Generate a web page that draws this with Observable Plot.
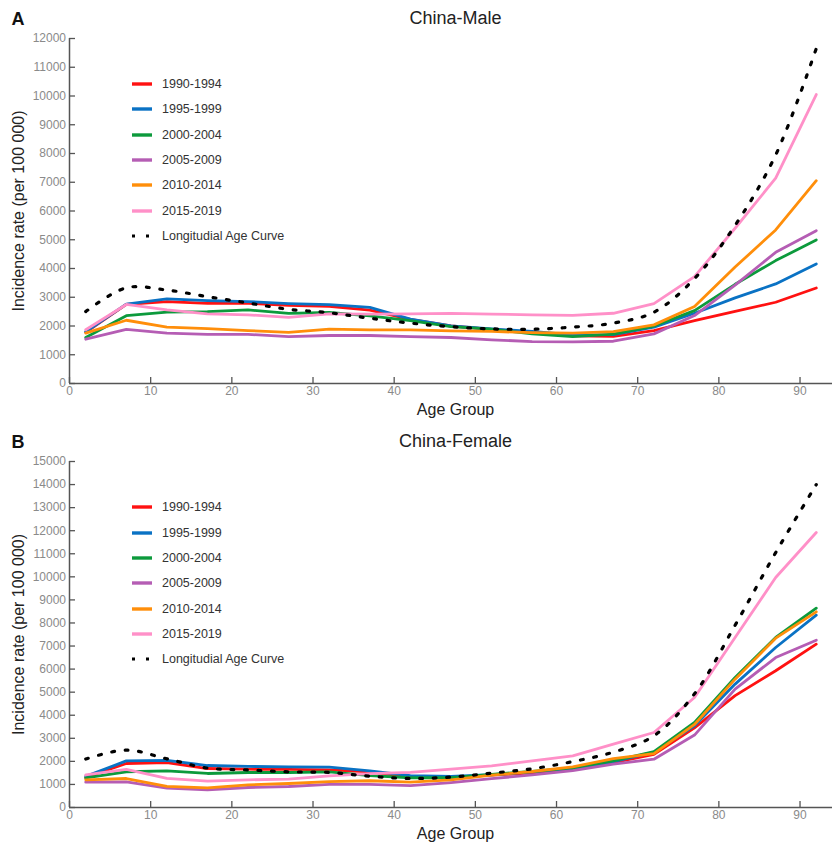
<!DOCTYPE html>
<html>
<head>
<meta charset="utf-8">
<script src="https://cdn.jsdelivr.net/npm/d3@7"></script>
<script src="https://cdn.jsdelivr.net/npm/@observablehq/plot@0.6"></script>
<style>
  body { margin: 0; background: #fff; font-family: "Liberation Sans", Arial, sans-serif; }
  .panel { position: relative; width: 832px; }
  .panel svg { display: block; }
  .legend { position: absolute; left: 132px; top: 0; font-size: 12.5px; color: #333; }
  .legend .item { position: absolute; left: 0; height: 16px; display: flex; align-items: center; white-space: nowrap; }
  .legend .item svg { width: 22px; height: 8px; margin-right: 8px; overflow: visible; }
</style>
</head>
<body>
<div id="chart"></div>
<script>
// Age group midpoints (5-year groups)
const ages = [2, 7, 12, 17, 22, 27, 32, 37, 42, 47, 52, 57, 62, 67, 72, 77, 82, 87, 92];
const periods = ["1990-1994", "1995-1999", "2000-2004", "2005-2009", "2010-2014", "2015-2019"];
const periodColors = ["#ff1111", "#0a72c4", "#0c9a3c", "#b55db4", "#ff8e0a", "#ff90c8"];
const curveLabel = "Longitudial Age Curve";
const yTicksMale = [0, 1000, 2000, 3000, 4000, 5000, 6000, 7000, 8000, 9000, 10000, 11000, 12000];
const yTicksFemale = [0, 1000, 2000, 3000, 4000, 5000, 6000, 7000, 8000, 9000, 10000, 11000, 12000, 13000, 14000, 15000];
const xTicks = [0, 10, 20, 30, 40, 50, 60, 70, 80, 90];

// China-Male incidence rate (per 100 000) by period
const maleP1990 = [1780, 2750, 2850, 2790, 2790, 2720, 2680, 2550, 2230, 2000, 1880, 1780, 1660, 1640, 1840, 2190, 2510, 2826, 3320];
const maleP1995 = [1800, 2760, 2940, 2880, 2850, 2780, 2740, 2650, 2240, 2000, 1900, 1810, 1690, 1700, 1960, 2445, 2980, 3463, 4158];
const maleP2000 = [1600, 2360, 2480, 2500, 2560, 2440, 2470, 2350, 2190, 1980, 1890, 1725, 1630, 1720, 1998, 2536, 3450, 4274, 4993];
const maleP2005 = [1540, 1880, 1750, 1710, 1710, 1630, 1670, 1670, 1630, 1600, 1520, 1460, 1450, 1470, 1727, 2363, 3420, 4563, 5316];
const maleP2010 = [1750, 2200, 1960, 1910, 1840, 1780, 1890, 1865, 1865, 1830, 1810, 1770, 1750, 1807, 2040, 2680, 4050, 5340, 7053];
const maleP2015 = [1870, 2750, 2560, 2420, 2390, 2300, 2420, 2410, 2420, 2440, 2410, 2390, 2370, 2443, 2780, 3720, 5400, 7140, 10050];
const maleCurve = [2500, 3330, 3250, 3020, 2800, 2580, 2460, 2270, 2100, 1975, 1900, 1890, 1960, 2100, 2480, 3650, 5500, 7950, 11650];

// China-Female incidence rate (per 100 000) by period
const femaleP1990 = [1300, 1907, 1950, 1690, 1660, 1650, 1630, 1550, 1320, 1310, 1400, 1500, 1650, 1950, 2300, 3450, 4850, 5930, 7080];
const femaleP1995 = [1350, 2020, 2040, 1820, 1780, 1763, 1750, 1590, 1380, 1350, 1420, 1540, 1700, 1990, 2400, 3540, 5350, 6936, 8338];
const femaleP2000 = [1280, 1550, 1590, 1475, 1517, 1517, 1546, 1380, 1290, 1290, 1440, 1560, 1720, 2020, 2427, 3685, 5636, 7370, 8641];
const femaleP2005 = [1100, 1110, 838, 760, 867, 910, 1000, 1000, 944, 1080, 1250, 1410, 1600, 1878, 2095, 3140, 5130, 6502, 7254];
const femaleP2010 = [1200, 1257, 920, 855, 982, 1040, 1120, 1160, 1100, 1200, 1400, 1560, 1760, 2120, 2340, 3600, 5563, 7340, 8482];
const femaleP2015 = [1410, 1650, 1260, 1140, 1200, 1228, 1372, 1470, 1520, 1663, 1807, 2024, 2240, 2745, 3251, 4769, 7370, 9970, 11921];
const femaleCurve = [2100, 2490, 2110, 1710, 1630, 1546, 1520, 1355, 1258, 1320, 1490, 1680, 1990, 2400, 3110, 4930, 7900, 11050, 14000];

const FONT = "'Liberation Sans', Arial, sans-serif";
const AXIS = "#555";
const TICKTXT = "#8a8a8a";

function longFormat(seriesArrays) {
  const rows = [];
  seriesArrays.forEach((vals, i) => {
    vals.forEach((v, j) => rows.push({ period: periods[i], age: ages[j], value: v }));
  });
  return rows;
}

function panel({ letter, title, series, curve, yTicks, height, marginTop, marginBottom }) {
  const rows = longFormat(series);
  const curveRows = curve.map((v, j) => ({ age: ages[j], value: v }));
  const yMax = yTicks[yTicks.length - 1];
  const plain = d => String(d);
  return Plot.plot({
    width: 832,
    height,
    marginLeft: 69,
    marginRight: 0,
    marginTop,
    marginBottom,
    style: { fontFamily: FONT, background: "#fff" },
    x: { domain: [0, 94] },
    y: { domain: [0, yMax] },
    color: { domain: periods, range: periodColors },
    marks: [
      // tick labels
      Plot.axisY(yTicks, { tickSize: 0, tickPadding: 3.5, tickFormat: plain, fontSize: 12, fill: TICKTXT, label: null }),
      Plot.axisX(xTicks, { tickSize: 0, tickPadding: 3, tickFormat: plain, fontSize: 12, fill: TICKTXT, label: null }),
      // inward tick marks
      Plot.axisY(yTicks, { tickSize: 6, text: null, dx: 6, stroke: AXIS, strokeWidth: 1.3, strokeOpacity: 1, label: null }),
      Plot.axisX(xTicks, { tickSize: 6, text: null, dy: -6, stroke: AXIS, strokeWidth: 1.3, strokeOpacity: 1, label: null }),
      // axis lines
      Plot.ruleX([0], { stroke: AXIS, strokeWidth: 1.5 }),
      Plot.ruleY([0], { stroke: AXIS, strokeWidth: 1.5 }),
      // period lines
      Plot.line(rows, { x: "age", y: "value", z: "period", stroke: "period", strokeWidth: 2.8 }),
      // longitudinal age curve
      Plot.line(curveRows, {
        x: "age", y: "value", curve: "catmull-rom",
        stroke: "#000", strokeWidth: 3.2, strokeDasharray: "2.8,10.7"
      }),
      // titles and labels
      Plot.text([title], { text: d => d, frameAnchor: "top", dx: 4.5, dy: -20, fontSize: 18, fill: "#222", lineAnchor: "middle" }),
      Plot.text([letter], { text: d => d, frameAnchor: "top-left", textAnchor: "start", dx: -58, dy: -19, fontSize: 18, fontWeight: "bold", fill: "#111", lineAnchor: "middle" }),
      Plot.text(["Age Group"], { text: d => d, frameAnchor: "bottom", dx: 4.5, dy: 26, fontSize: 16, fill: "#222", lineAnchor: "middle" }),
      Plot.text(["Incidence rate (per 100 000)"], { text: d => d, frameAnchor: "left", textAnchor: "middle", rotate: -90, dx: -51, fontSize: 16, fill: "#222", lineAnchor: "middle" })
    ]
  });
}

function legend(top) {
  const box = document.createElement("div");
  box.className = "legend";
  box.style.top = top + "px";
  const step = 25.35;
  periods.forEach((p, i) => {
    const item = document.createElement("div");
    item.className = "item";
    item.style.top = (i * step - 8) + "px";
    item.innerHTML = `<svg viewBox="0 0 22 8"><line x1="0" x2="20" y1="4" y2="4" stroke="${periodColors[i]}" stroke-width="3.4"/></svg><span>${p}</span>`;
    box.appendChild(item);
  });
  const item = document.createElement("div");
  item.className = "item";
  item.style.top = (periods.length * step - 8) + "px";
  item.innerHTML = `<svg viewBox="0 0 22 8"><line x1="0" x2="20" y1="4" y2="4" stroke="#000" stroke-width="3.2" stroke-dasharray="3,11"/></svg><span>${curveLabel}</span>`;
  box.appendChild(item);
  return box;
}

const root = document.getElementById("chart");

const male = document.createElement("div");
male.className = "panel";
male.appendChild(panel({
  letter: "A", title: "China-Male",
  series: [maleP1990, maleP1995, maleP2000, maleP2005, maleP2010, maleP2015],
  curve: maleCurve, yTicks: yTicksMale,
  height: 421, marginTop: 38, marginBottom: 38
}));
male.appendChild(legend(84));
root.appendChild(male);

const female = document.createElement("div");
female.className = "panel";
female.appendChild(panel({
  letter: "B", title: "China-Female",
  series: [femaleP1990, femaleP1995, femaleP2000, femaleP2005, femaleP2010, femaleP2015],
  curve: femaleCurve, yTicks: yTicksFemale,
  height: 422, marginTop: 40, marginBottom: 36
}));
female.appendChild(legend(86.3));
root.appendChild(female);
</script>
</body>
</html>
